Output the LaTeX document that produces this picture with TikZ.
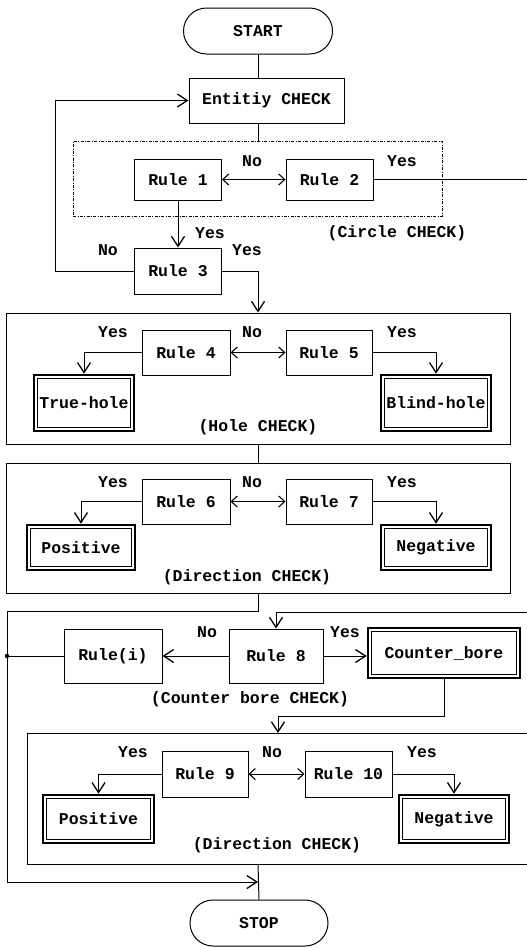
\documentclass[tikz,border=0pt]{standalone}
\usepackage{fontspec}
\setmainfont{Liberation Mono}
\usetikzlibrary{arrows.meta,shapes.misc}
\begin{document}
\begin{tikzpicture}[x=1pt,y=-1pt,
  every node/.style={font=\fontsize{16.5}{18}\selectfont\bfseries},
  conn/.style={line width=1pt},
  arr/.style={conn,-{Straight Barb[length=10pt,width=13pt,line width=1.3pt]}},
  dblarr/.style={conn,{Straight Barb[length=6pt,width=11pt,line width=1.1pt]}-{Straight Barb[length=6pt,width=11pt,line width=1.1pt]}},
  rulebox/.style={draw,line width=1pt,inner sep=0pt},
  resbox/.style={draw,line width=2.6pt,inner sep=0pt,
    path picture={\draw[line width=0.8pt]
      ([shift={(3.8pt,-3.8pt)}]path picture bounding box.north west) rectangle
      ([shift={(-3.8pt,3.8pt)}]path picture bounding box.south east);}},
  termbox/.style={draw,line width=1pt,rounded rectangle,inner sep=0pt},
  groupbox/.style={draw,line width=1pt,inner sep=0pt},
  dashbox/.style={draw,line width=0.7pt,dash pattern=on 3pt off 1.5pt on 0.8pt off 1.5pt,inner sep=0pt},
  lbl/.style={inner sep=0pt}
]
\useasboundingbox (0,0) rectangle (527,948);

% terminals and top
\node[termbox,minimum width=149,minimum height=46] (start) at (258,31) {START};
\node[rulebox,minimum width=155,minimum height=45] (ent) at (266.5,100.5) {Entitiy CHECK};

% circle check
\node[dashbox,minimum width=369,minimum height=75] (cbox) at (257.5,178.5) {};
\node[rulebox,minimum width=87,minimum height=41] (r1) at (178,179.5) {Rule 1};
\node[rulebox,minimum width=87,minimum height=41] (r2) at (329.5,179.5) {Rule 2};
\node[lbl] (l1) at (252,161) {No};
\node[lbl] (l2) at (402,161) {Yes};
\node[lbl] (l3) at (210,233) {Yes};
\node[lbl] (l4) at (397,233) {(Circle CHECK)};
\node[rulebox,minimum width=87,minimum height=46] (r3) at (178,271) {Rule 3};
\node[lbl] (l5) at (108,250) {No};
\node[lbl] (l6) at (247,250) {Yes};

% hole check
\node[groupbox,minimum width=504,minimum height=131] (hbox) at (258,378.5) {};
\node[rulebox,minimum width=88,minimum height=45] (r4) at (186,352.5) {Rule 4};
\node[rulebox,minimum width=86,minimum height=45] (r5) at (329,352.5) {Rule 5};
\node[resbox,minimum width=100,minimum height=56] (th) at (84,403) {True-hole};
\node[resbox,minimum width=110,minimum height=56] (bh) at (436,403) {Blind-hole};
\node[lbl] (l7) at (113,332) {Yes};
\node[lbl] (l8) at (252,332) {No};
\node[lbl] (l9) at (402,332) {Yes};
\node[lbl] (l10) at (258,427) {(Hole CHECK)};

% direction check 1
\node[groupbox,minimum width=504,minimum height=130] (dbox) at (258,528) {};
\node[rulebox,minimum width=88,minimum height=45] (r6) at (186,501.5) {Rule 6};
\node[rulebox,minimum width=86,minimum height=45] (r7) at (329,501.5) {Rule 7};
\node[resbox,minimum width=108,minimum height=45] (pos1) at (81,547.5) {Positive};
\node[resbox,minimum width=110,minimum height=45] (neg1) at (436,547.5) {Negative};
\node[lbl] (l11) at (113,482) {Yes};
\node[lbl] (l12) at (252,482) {No};
\node[lbl] (l13) at (402,482) {Yes};
\node[lbl] (l14) at (247,577) {(Direction CHECK)};

% counter bore check
\node[rulebox,minimum width=98,minimum height=54] (ri) at (113,656) {Rule(i)};
\node[rulebox,minimum width=94,minimum height=54] (r8) at (276,656) {Rule 8};
\node[resbox,minimum width=152,minimum height=50] (cb) at (444,653) {Counter\_bore};
\node[lbl] (l15) at (207,632) {No};
\node[lbl] (l16) at (345,632) {Yes};
\node[lbl] (l17) at (250,699) {(Counter bore CHECK)};

% direction check 2
\coordinate (d2tr) at (527,733);
\coordinate (d2tl) at (27,733);
\coordinate (d2bl) at (27,864);
\coordinate (d2br) at (527,864);
\draw[conn] (d2tr) -- (d2tl) -- (d2bl) -- (d2br);
\node[rulebox,minimum width=86,minimum height=46] (r9) at (205,774) {Rule 9};
\node[rulebox,minimum width=87,minimum height=46] (r10) at (348.5,774) {Rule 10};
\node[resbox,minimum width=111,minimum height=48] (pos2) at (98.5,819) {Positive};
\node[resbox,minimum width=110,minimum height=48] (neg2) at (454,819) {Negative};
\node[lbl] (l18) at (133,752) {Yes};
\node[lbl] (l19) at (272,752) {No};
\node[lbl] (l20) at (422,752) {Yes};
\node[lbl] (l21) at (277,845) {(Direction CHECK)};

\node[termbox,minimum width=138,minimum height=46] (stop) at (259,923) {STOP};

% connectors
\draw[conn] (start.south) -- (start.south |- ent.north);
\draw[conn] (start.south |- ent.south) -- (start.south |- cbox.north);
\draw[dblarr] (r1.east) -- (r2.west);
\coordinate (rightA) at (527,179.5);
\draw[conn] (r2.east) -- (rightA);
\draw[arr] (r1.south) -- (r3.north);
\coordinate (loopL) at (55,271);
\draw[arr] (r3.west) -- (loopL) |- (ent.west);
\draw[arr] (r3.east) -| (hbox.north);

\draw[dblarr] (r4.east) -- (r5.west);
\draw[arr] (r4.west) -| (th.north);
\draw[arr] (r5.east) -| (bh.north);
\draw[conn] (hbox.south) -- (dbox.north);

\draw[dblarr] (r6.east) -- (r7.west);
\draw[arr] (r6.west) -| (pos1.north);
\draw[arr] (r7.east) -| (neg1.north);

\coordinate (j1) at (258,611);
\coordinate (lc1) at (7,611);
\coordinate (lc2) at (7,882);
\coordinate (merge) at (258,882);
\draw[conn] (dbox.south) -- (j1) -- (lc1) -- (lc2);
\draw[arr] (lc2) -- (merge);

\coordinate (rightB) at (527,612);
\draw[arr] (rightB) -| (r8.north);
\draw[arr] (r8.west) -- (ri.east);
\draw[arr] (r8.east) -- (r8.east -| cb.west);
\coordinate (dot) at (7,656);
\draw[conn] (ri.west) -- (dot);
\fill (dot) circle (2.2pt);
\coordinate (d2in) at (278,733);
\draw[arr] (cb.south) -- ++(0,37) -| (d2in);

\draw[dblarr] (r9.east) -- (r10.west);
\draw[arr] (r9.west) -| (pos2.north);
\draw[arr] (r10.east) -| (neg2.north);
\coordinate (d2out) at (258,864);
\draw[conn] (d2out) -- (stop.north);
\end{tikzpicture}
\end{document}
